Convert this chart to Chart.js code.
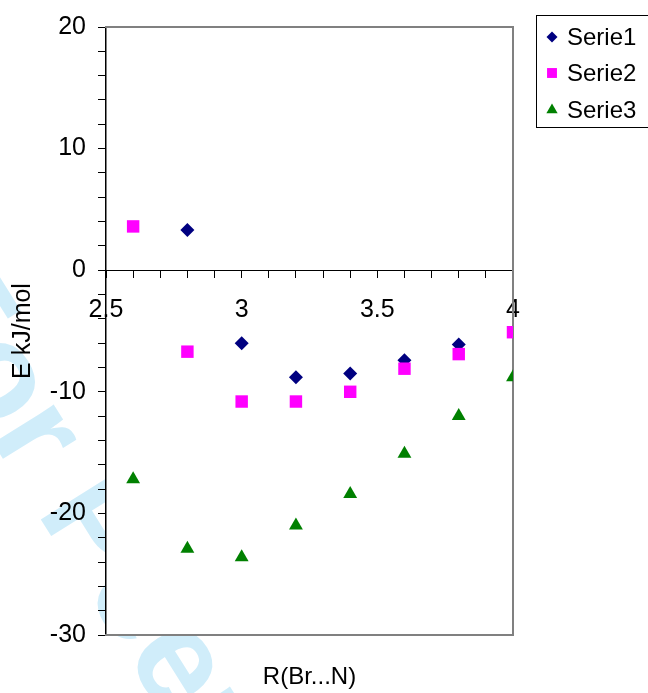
<!DOCTYPE html>
<html>
<head>
<meta charset="utf-8">
<script src="https://cdn.jsdelivr.net/npm/chart.js@4.4.1/dist/chart.umd.min.js"></script>
<style>
  html, body { margin: 0; padding: 0; background: #fff; }
  #wrap { width: 648px; height: 693px; }
</style>
</head>
<body>
<div id="wrap"><canvas id="energyChart"></canvas></div>
<script>
// values
const serie1X = [2.8, 3.0, 3.2, 3.4, 3.6, 3.8];
const serie1Y = [3.3, -6.0, -8.8, -8.5, -7.4, -6.1];
const serie2X = [2.6, 2.8, 3.0, 3.2, 3.4, 3.6, 3.8, 4.0];
const serie2Y = [3.6, -6.7, -10.8, -10.8, -10.0, -8.1, -6.9, -5.1];
const serie3X = [2.6, 2.8, 3.0, 3.2, 3.4, 3.6, 3.8, 4.0];
const serie3Y = [-17.2, -22.9, -23.6, -21.0, -18.4, -15.1, -12.0, -8.8];
const seriesNames = ['Serie1', 'Serie2', 'Serie3'];
const xTickLabels = [2.5, 3, 3.5, 4];
const yTickLabels = [-30, -20, -10, 0, 10, 20];

const toPoints = (xs, ys) => xs.map((x, i) => ({ x: x, y: ys[i] }));
const labelFrom = (list) => (v) => {
    const hit = list.find(t => Math.abs(t - v) < 1e-6);
    return hit === undefined ? '' : String(hit);
};

Chart.defaults.font.family = '"Liberation Sans", Arial, sans-serif';
Chart.defaults.font.size = 25;
Chart.defaults.color = '#000';

// watermark behind, white plot area, framed legend on top
const pagePlugin = {
    id: 'pagePlugin',
    beforeDraw(chart) {
        const { ctx, chartArea: a } = chart;
        ctx.save();
        ctx.translate(-100, 294);
        ctx.rotate(58 * Math.PI / 180);
        ctx.font = 'bold 136px "Liberation Sans", Arial, sans-serif';
        ctx.fillStyle = 'rgb(208, 237, 250)';
        ctx.fillText('For Peer Review', 0, 0);
        ctx.restore();
        ctx.save();
        ctx.fillStyle = '#fff';
        ctx.fillRect(a.left, a.top, a.right - a.left, a.bottom - a.top);
        ctx.restore();
    },
    afterDraw(chart) {
        const ctx = chart.ctx;
        ctx.save();
        ctx.strokeStyle = '#000';
        ctx.lineWidth = 1;
        ctx.strokeRect(536.5, 15.5, 120, 112);
        const rows = [37, 73, 110];
        const markers = [
            { pointStyle: 'rectRot', radius: 5.5 },
            { pointStyle: 'rect', radius: 7 },
            { pointStyle: 'triangle', radius: 6.5 }
        ];
        chart.data.datasets.forEach((ds, i) => {
            ctx.fillStyle = ds.backgroundColor;
            Chart.helpers.drawPoint(ctx, { pointStyle: markers[i].pointStyle, radius: markers[i].radius, rotation: 0, borderWidth: 0 }, 552, rows[i]);
            ctx.fillStyle = '#000';
            ctx.font = '24px "Liberation Sans", Arial, sans-serif';
            ctx.textBaseline = 'middle';
            ctx.textAlign = 'left';
            ctx.fillText(ds.label, 567, rows[i] + 1);
        });
        ctx.restore();
    }
};

const frameAxis = (position) => ({
    position: position,
    display: true,
    ticks: { display: false },
    grid: { display: false, drawTicks: false },
    border: { display: true, color: '#808080', width: 2 }
});

new Chart(document.getElementById('energyChart'), {
    type: 'scatter',
    data: {
        datasets: [{
            label: seriesNames[0],
            data: toPoints(serie1X, serie1Y),
            backgroundColor: '#000080',
            borderColor: '#000080',
            pointStyle: 'rectRot',
            pointRadius: 7,
            pointHoverRadius: 7,
            pointBorderWidth: 0,
            order: 3
        }, {
            label: seriesNames[1],
            data: toPoints(serie2X, serie2Y),
            backgroundColor: '#FF00FF',
            borderColor: '#FF00FF',
            pointStyle: 'rect',
            pointRadius: 8.8,
            pointHoverRadius: 8.8,
            pointBorderWidth: 0,
            order: 2
        }, {
            label: seriesNames[2],
            data: toPoints(serie3X, serie3Y),
            backgroundColor: '#008000',
            borderColor: '#008000',
            pointStyle: 'triangle',
            pointRadius: 8,
            pointHoverRadius: 8,
            pointBorderWidth: 0,
            order: 1
        }]
    },
    options: {
        responsive: true,
        maintainAspectRatio: false,
        animation: false,
        layout: {
            padding: { top: 24, right: 135, left: 0, bottom: 0 }
        },
        plugins: {
            legend: { display: false },
            tooltip: { enabled: false }
        },
        scales: {
            x: {
                type: 'linear',
                position: { y: 0 },
                min: 2.5,
                max: 4,
                ticks: {
                    stepSize: 0.1,
                    autoSkip: false,
                    maxRotation: 0,
                    padding: 18,
                    callback: labelFrom(xTickLabels)
                },
                grid: { drawOnChartArea: false, drawTicks: true, tickLength: 7, color: '#000' },
                border: { display: true, color: '#000', width: 1 }
            },
            y: {
                type: 'linear',
                position: 'left',
                min: -30,
                max: 20,
                afterFit: (scale) => { scale.width = 106; },
                ticks: {
                    stepSize: 2,
                    autoSkip: false,
                    padding: 12,
                    callback: labelFrom(yTickLabels)
                },
                grid: { drawOnChartArea: false, drawTicks: true, tickLength: 8, color: '#000' },
                border: { display: true, color: '#000', width: 1.5 },
                title: {
                    display: true,
                    text: 'E kJ/mol',
                    padding: { top: 8, bottom: 0 }
                }
            },
            xBottom: Object.assign(frameAxis('bottom'), {
                min: 2.5,
                max: 4,
                title: {
                    display: true,
                    text: 'R(Br...N)',
                    font: { size: 24 },
                    padding: { top: 27.6, bottom: 1.6 }
                }
            }),
            xTop: frameAxis('top'),
            yRight: frameAxis('right')
        }
    },
    plugins: [pagePlugin]
});
</script>
</body>
</html>
